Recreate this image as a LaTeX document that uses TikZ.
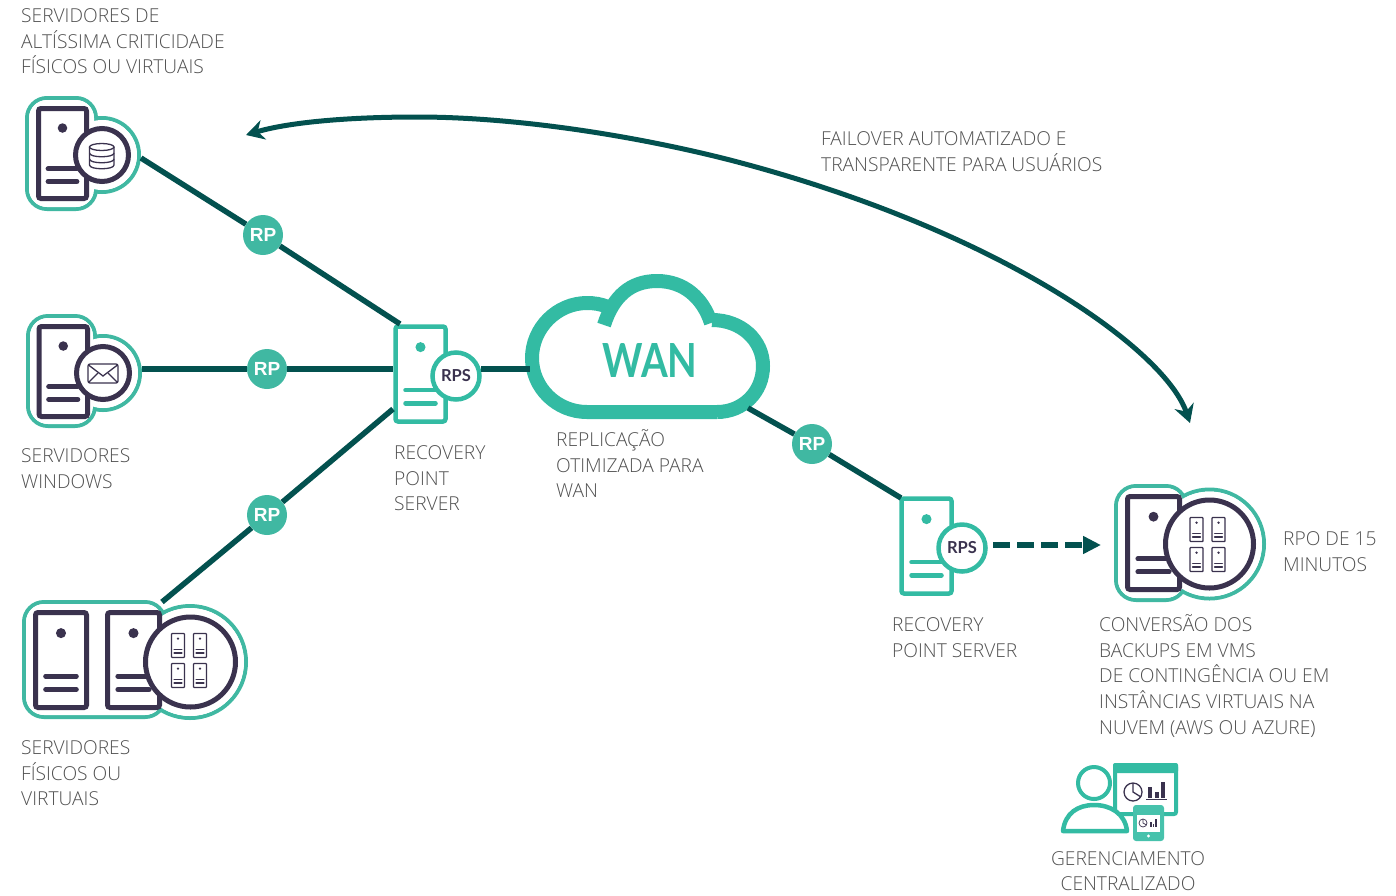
\documentclass[tikz,border=0pt]{standalone}
\usepackage{fontspec}
\setmainfont{Open Sans Light}
\newfontfamily\badgefont{Liberation Sans}
\newfontfamily\cloudfont{Lato}
\usetikzlibrary{arrows.meta}

\definecolor{mint}{HTML}{33BBA3}
\definecolor{halo}{HTML}{40B8A2}
\definecolor{ink}{HTML}{3A324E}
\definecolor{pine}{HTML}{03514F}
\definecolor{caption}{HTML}{505050}

\tikzset{
	link/.style={pine,line width=5.5pt},
	darkbox/.style={ink,line width=5pt,rounded corners=2.5pt},
	mintbox/.style={mint,line width=4.5pt,rounded corners=2.5pt},
	minibox/.style={ink,line width=1.3pt,rounded corners=0.7pt},
	halobox/.style={halo,line width=4pt,rounded corners=20pt},
	thinink/.style={ink,line width=1.3pt},
	lens/.style={circle,draw=ink,fill=white,line width=5pt,inner sep=0pt},
	rpsdisc/.style={circle,draw=mint,fill=white,line width=4.5pt,inner sep=0pt,minimum size=47pt,text=ink,font=\cloudfont\bfseries\fontsize{16.5}{16.5}\selectfont},
	rpbadge/.style={circle,fill=halo,inner sep=0pt,minimum size=40pt,text=white,font=\badgefont\bfseries\fontsize{19}{19}\selectfont},
	label/.style={anchor=north west,align=left,inner sep=0pt,text=caption,font=\fontsize{19.2}{25.6}\selectfont},
}

% left, top, right, bottom of the centre line
\newcommand{\serverbox}[5]{
	\draw[#1,fill=white] (#2,#3) rectangle (#4,#5);
	\fill[#1] ({(#2+#4)/2},{#3+0.217*(#5-(#3))}) circle[radius={0.053*(#5-(#3))*1pt}];
	\draw[#1,line cap=round,sharp corners] ({#2+0.2*(#4-(#2))},{#3+0.67*(#5-(#3))}) -- ({#4-0.2*(#4-(#2))},{#3+0.67*(#5-(#3))});
	\draw[#1,line cap=round,sharp corners] ({#2+0.2*(#4-(#2))},{#3+0.81*(#5-(#3))}) -- ({#4-0.2*(#4-(#2))},{#3+0.81*(#5-(#3))});
}

% four small servers, from the top left corner of the first one
\newcommand{\miniservers}[2]{
	\serverbox{minibox}{#1}{#2}{#1+13}{#2+24}
	\serverbox{minibox}{#1+22}{#2}{#1+35}{#2+24}
	\serverbox{minibox}{#1}{#2+30}{#1+13}{#2+54}
	\serverbox{minibox}{#1+22}{#2+30}{#1+35}{#2+54}
}

\begin{document}
\begin{tikzpicture}[x=1pt,y=-1pt]
	\useasboundingbox (0,0) rectangle (1396,895);

	% Database server
	\draw[halobox] (27,98) rectangle (96,209);
	\draw[halobox] (102,155) circle[radius=37pt];
	\fill[white,rounded corners=18pt] (29,100) rectangle (94,207);
	\fill[white] (102,155) circle[radius=35pt];
	\serverbox{darkbox}{38.5}{108.5}{86.5}{198.5}
	\node[lens,minimum size=53pt] (dbserver) at (102,155) {};
	\draw[thinink,fill=white] (89.5,147) -- (89.5,165) .. controls (89.5,170) and (114,170) .. (114,165) -- (114,147);
	\draw[thinink,fill=white] (101.75,147) ellipse[x radius=12.25pt,y radius=3.5pt];
	\draw[thinink] (89.5,153) .. controls (89.5,158) and (114,158) .. (114,153);
	\draw[thinink] (89.5,159) .. controls (89.5,164) and (114,164) .. (114,159);

	% Mail server
	\draw[halobox] (28,316) rectangle (95,426);
	\draw[halobox] (103,373) circle[radius=37pt];
	\fill[white,rounded corners=18pt] (30,318) rectangle (93,424);
	\fill[white] (103,373) circle[radius=35pt];
	\serverbox{darkbox}{39}{326.5}{87.5}{416.5}
	\node[lens,minimum size=53pt] (mailserver) at (103,373) {};
	\draw[thinink,rounded corners=2pt] (88,364) rectangle (118,383);
	\draw[thinink] (88.5,365) -- (103,376) -- (117.5,365);
	\draw[thinink] (88.5,382.5) -- (98,373);
	\draw[thinink] (117.5,382.5) -- (108,373);

	% Physical and virtual servers
	\draw[halobox] (24,602) rectangle (165,717);
	\draw[halobox] (190,662) circle[radius=56pt];
	\fill[white,rounded corners=18pt] (26,604) rectangle (163,715);
	\fill[white] (190,662) circle[radius=54pt];
	\serverbox{darkbox}{35.5}{612.5}{86.5}{707.5}
	\serverbox{darkbox}{107.5}{612.5}{159.5}{707.5}
	\node[lens,minimum size=90pt] (vmservers) at (190.5,662) {};
	\miniservers{171.5}{633.5}

	% Target server
	\draw[halobox] (1116,486) rectangle (1186,600);
	\draw[halobox] (1209.5,544) circle[radius=54.5pt];
	\fill[white,rounded corners=18pt] (1118,488) rectangle (1184,598);
	\fill[white] (1209.5,544) circle[radius=52.5pt];
	\serverbox{darkbox}{1127.5}{496.5}{1179.5}{589.5}
	\node[lens,minimum size=88pt] (target) at (1209.5,544) {};
	\miniservers{1190}{517.5}

	% Recovery point servers
	\serverbox{mintbox}{395.5}{326.5}{445.5}{421.5}
	\node[rpsdisc] (rpsleft) at (456,376) {RPS};
	\serverbox{mintbox}{901.5}{498.5}{951.5}{593.5}
	\node[rpsdisc] (rpsright) at (962,548) {RPS};

	% Cloud
	\fill[white] (587,412) .. controls (557,412) and (532,388) .. (532,358) .. controls (532,328) and (557,303) .. (587,303) -- (604,325) .. controls (613,297) and (630,281) .. (657,281) .. controls (684,281) and (703,298) .. (712,320) .. controls (741,320) and (763,340) .. (763,366) .. controls (763,392) and (743,412) .. (717,412) -- cycle;
	\draw[mint,line width=14pt] (717,412) -- (587,412) .. controls (557,412) and (532,388) .. (532,358) .. controls (532,328) and (557,303) .. (587,303) .. controls (594,303) and (601,304) .. (608,307);
	\draw[mint,line width=14pt] (604,325) .. controls (613,297) and (630,281) .. (657,281) .. controls (684,281) and (703,298) .. (711,323);
	\draw[mint,line width=14pt] (712,320) .. controls (741,320) and (763,340) .. (763,366) .. controls (763,392) and (743,412) .. (717,412);
	\node[inner sep=0pt,text=mint,font=\cloudfont\bfseries\fontsize{47}{47}\selectfont] (wan) at (650,360) {\scalebox{0.82}[1]{WAN}};

	% Manager with monitor and tablet
	\draw[mint,line width=4pt,rounded corners=2pt,fill=white] (1115,765) rectangle (1176,814);
	\fill[mint,rounded corners=2pt] (1113,763) rectangle (1178,773);
	\draw[thinink] (1133,792) circle[radius=9pt];
	\draw[thinink] (1133,783) -- (1133,792) -- (1141,797);
	\fill[ink] (1148,787) rectangle (1152,798);
	\fill[ink] (1155,792) rectangle (1158.5,798);
	\fill[ink] (1161,782) rectangle (1165,798);
	\draw[ink,line width=1pt] (1146,799.5) -- (1167,799.5);
	\draw[mint,line width=4pt,fill=white] (1094,783) circle[radius=16pt];
	\draw[mint,line width=4.5pt,line join=round,fill=white] (1063,831) .. controls (1065,813) and (1078,805) .. (1094,805) .. controls (1110,805) and (1125,813) .. (1127,831) -- cycle;
	\fill[mint!90!white,rounded corners=3pt] (1133,805) rectangle (1164,841);
	\fill[white] (1137,815) rectangle (1160,832);
	\fill[white] (1148.5,836) circle[radius=1.6pt];
	\draw[ink,line width=0.7pt] (1143,823) circle[radius=4pt];
	\draw[ink,line width=0.7pt] (1143,819) -- (1143,823) -- (1146.5,825);
	\fill[ink] (1150,822) rectangle (1151.5,827);
	\fill[ink] (1152.5,824) rectangle (1154,827);
	\fill[ink] (1155,819) rectangle (1156.5,827);

	% Recovery points
	\node[rpbadge] (rpdb) at (263,235) {RP};
	\node[rpbadge] (rpmail) at (267,369) {RP};
	\node[rpbadge] (rpvm) at (267,515) {RP};
	\node[rpbadge] (rpwan) at (812,444) {RP};

	% Free ends of the links
	\coordinate (dbout) at (141,158);
	\coordinate (mailout) at (142,369);
	\coordinate (vmout) at (162,602);
	\coordinate (rpsin) at (400,324);
	\coordinate (rpsmid) at (393,369);
	\coordinate (rpslow) at (393,409);
	\coordinate (rpsout) at (481,369);
	\coordinate (rpstop) at (901,498);
	\coordinate (cloudin) at (530,369);
	\coordinate (cloudout) at (748,408);
	\coordinate (dashstart) at (993,545);
	\coordinate (dashend) at (1101,545);
	\coordinate (failsource) at (1190,423);
	\coordinate (failtarget) at (246,135);

	% Links
	\draw[link] (dbout) -- (rpdb) -- (rpsin);
	\draw[link] (mailout) -- (rpmail) -- (rpsmid);
	\draw[link] (vmout) -- (rpvm) -- (rpslow);
	\draw[link] (rpsout) -- (cloudin);
	\draw[link] (cloudout) -- (rpwan) -- (rpstop);
	\draw[pine,line width=6pt,dash pattern=on 17pt off 7pt,-{Triangle[length=18pt,width=17pt]}] (dashstart) -- (dashend);
	\draw[pine,line width=5pt,{Stealth[length=18pt,width=20pt]}-{Stealth[length=18pt,width=20pt]}] (failsource) .. controls (1165,350) and (1000,230) .. (730,160) .. controls (640,137) and (520,117) .. (417,117) .. controls (350,117) and (290,122) .. (failtarget);

	% Labels
	\node[label] (lblcritical) at (21,8.5) {SERVIDORES DE\\ALTÍSSIMA CRITICIDADE\\FÍSICOS OU VIRTUAIS};
	\node[label] (lblwindows) at (21,448.5) {SERVIDORES\\WINDOWS};
	\node[label] (lblphysical) at (21,740.5) {SERVIDORES\\FÍSICOS OU\\VIRTUAIS};
	\node[label] (lblrpsleft) at (394,445.5) {RECOVERY\\POINT\\SERVER};
	\node[label] (lblwan) at (556,429.5) {REPLICAÇÃO\\OTIMIZADA PARA\\WAN};
	\node[label] (lblfailover) at (821,131.5) {FAILOVER AUTOMATIZADO E\\TRANSPARENTE PARA USUÁRIOS};
	\node[label] (lblrpsright) at (892,617.5) {RECOVERY\\POINT SERVER};
	\node[label] (lblrpo) at (1283,531.5) {RPO DE 15\\MINUTOS};
	\node[label] (lblconvert) at (1099,614.5) {CONVERSÃO DOS\\BACKUPS EM VMS\\DE CONTINGÊNCIA OU EM\\INSTÂNCIAS VIRTUAIS NA\\NUVEM (AWS OU AZURE)};
	\node[label,anchor=north,align=center] (lblmanage) at (1128,851) {GERENCIAMENTO\\CENTRALIZADO};
\end{tikzpicture}
\end{document}
